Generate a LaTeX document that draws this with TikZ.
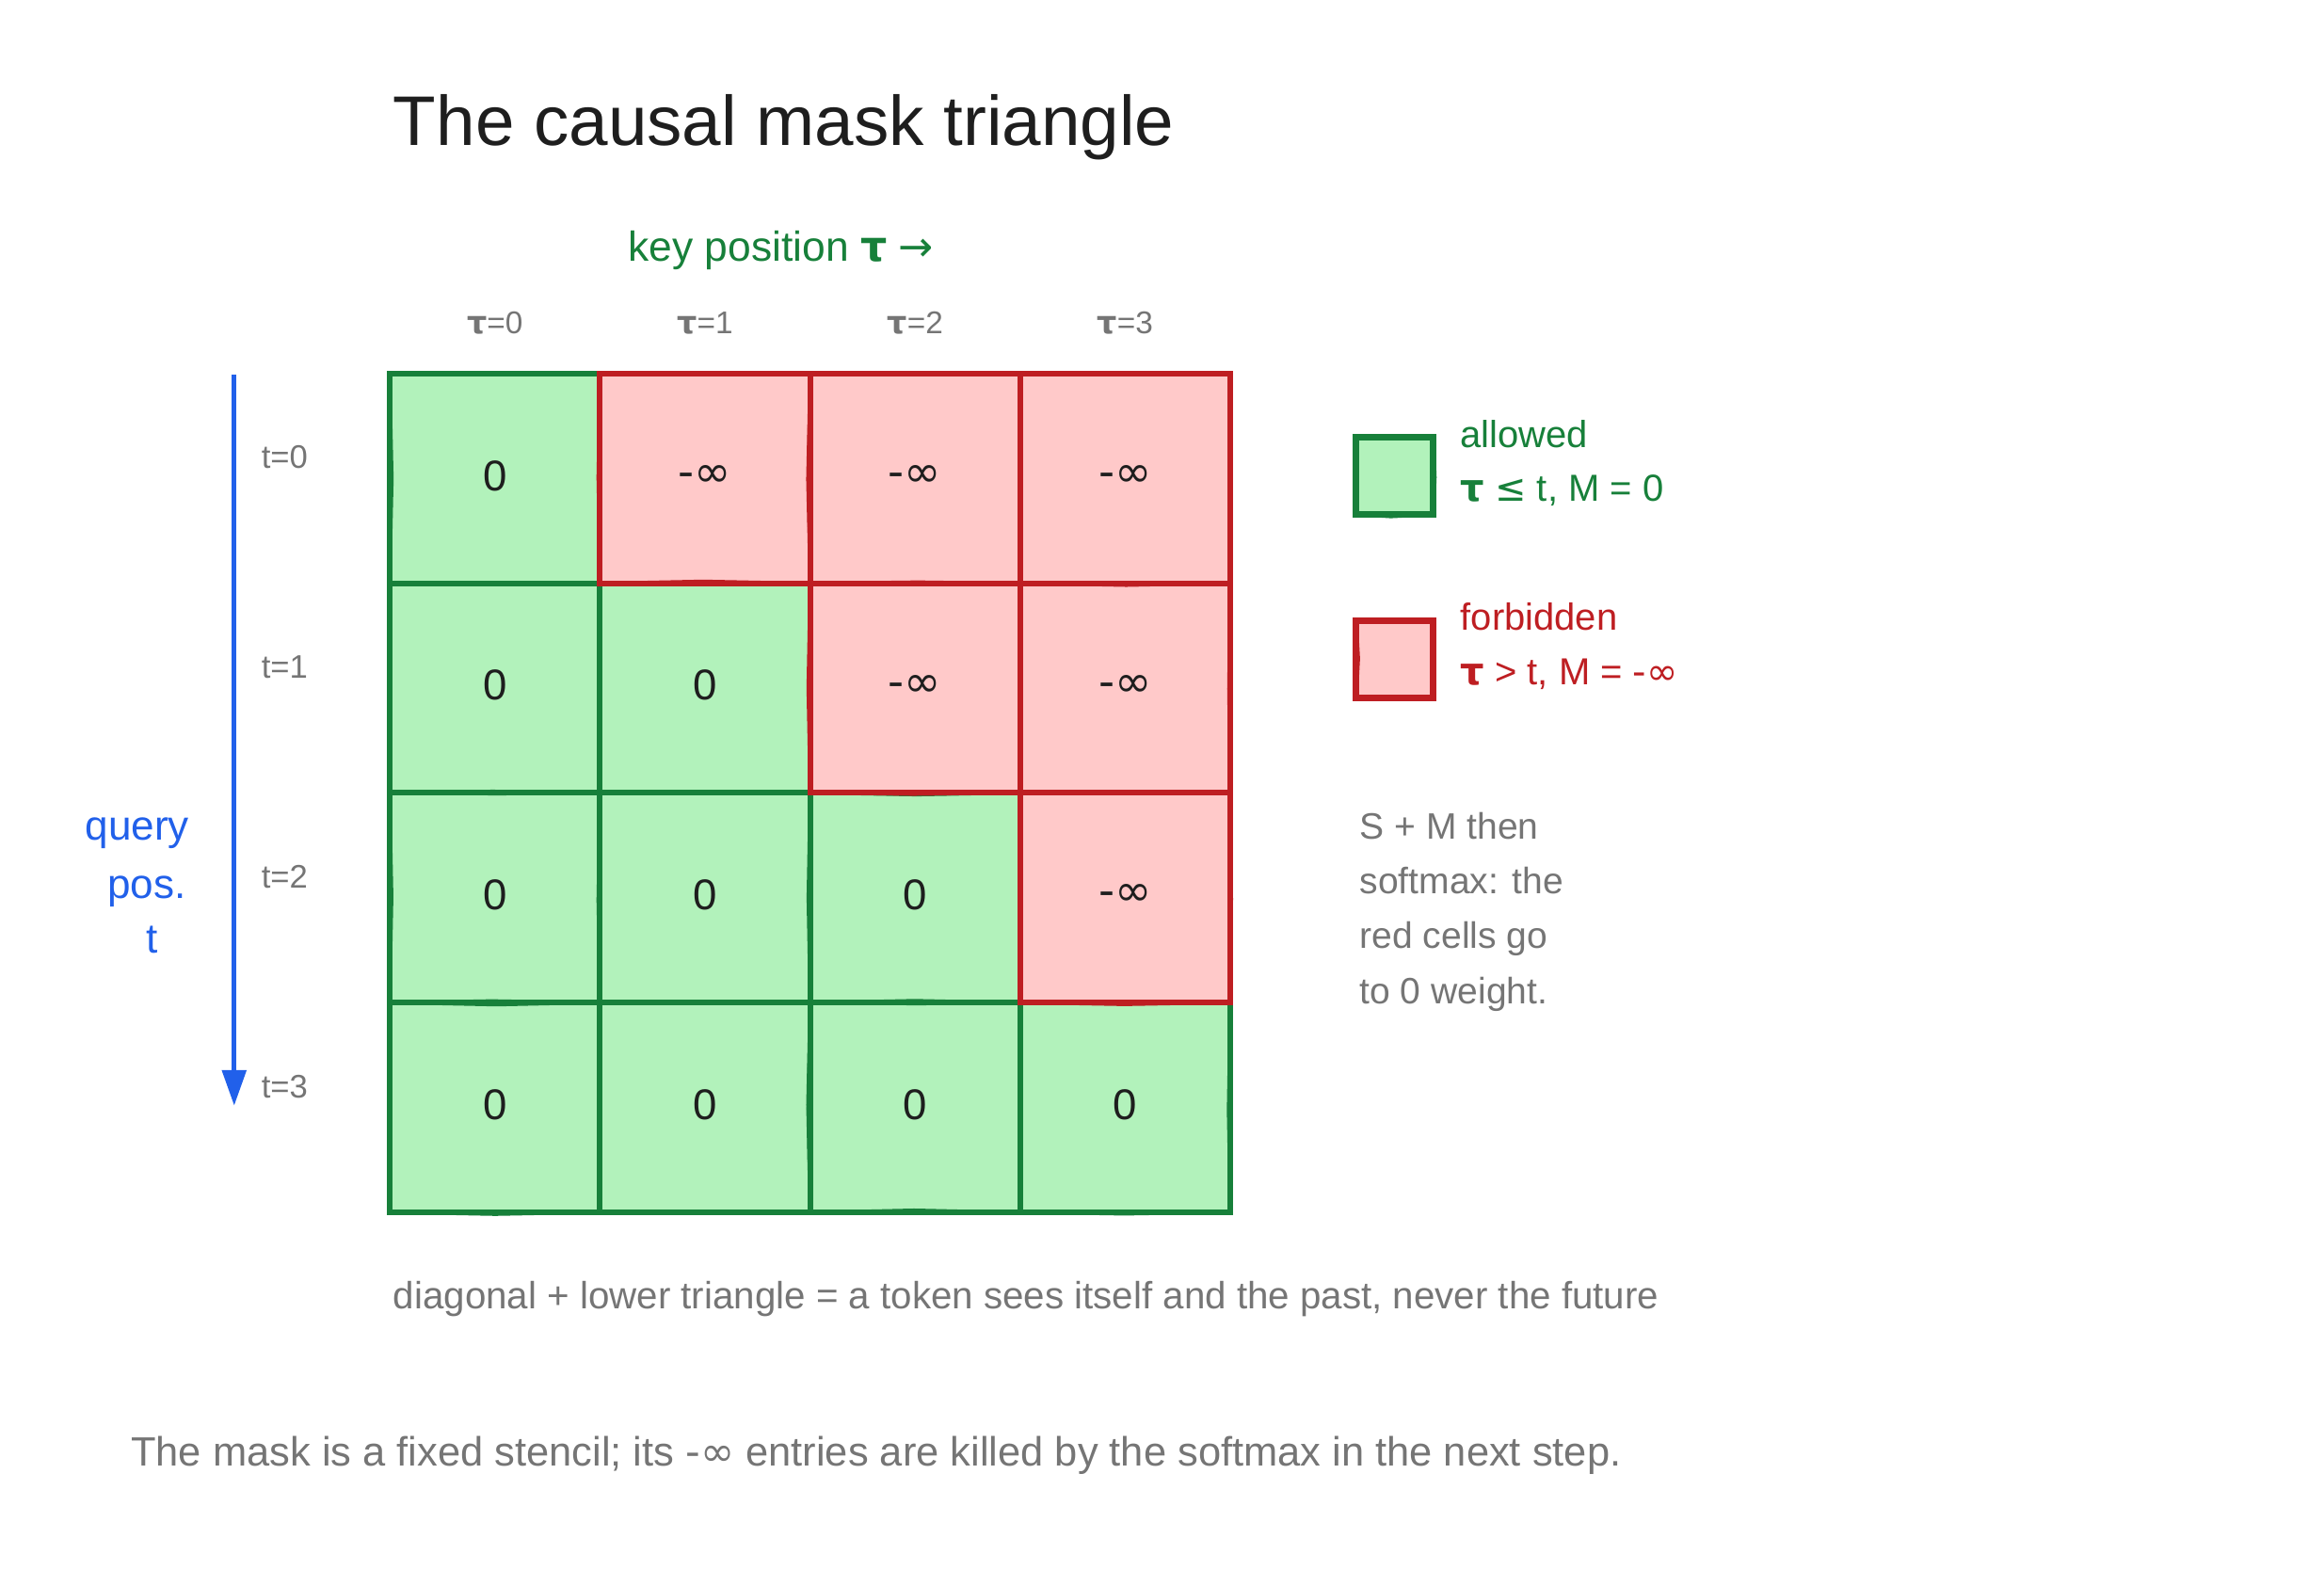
\documentclass[tikz,border=0pt]{standalone}
\usepackage{fontspec}
\setmainfont{Liberation Sans}
\newfontfamily\symf{DejaVu Sans}
\usetikzlibrary{arrows.meta,decorations.pathmorphing}
\definecolor{gfill}{HTML}{B2F2BB}
\definecolor{gline}{HTML}{17803A}
\definecolor{rfill}{HTML}{FFC9C9}
\definecolor{rline}{HTML}{BE1E22}
\definecolor{qblue}{HTML}{2160EA}
\definecolor{gtext}{HTML}{757575}
\definecolor{ink}{HTML}{1E1E1E}
\pgfmathsetseed{7}
\tikzset{
  cellbase/.style={minimum width=70.875pt, minimum height=70.75pt, inner sep=0pt, line width=1.9pt,
    font=\fontsize{14.5}{16}\selectfont, text=ink,
    postaction={draw, line width=1pt, decorate, decoration={random steps, segment length=35pt, amplitude=0.8pt}}},
  okcell/.style={cellbase, draw=gline, fill=gfill},
  badcell/.style={cellbase, draw=rline, fill=rfill},
  colhead/.style={font=\fontsize{10.6}{12}\selectfont, text=gtext, anchor=base},
  rowhead/.style={font=\fontsize{11}{12}\selectfont, text=gtext, anchor=base west},
  legbox/.style={minimum size=26pt, inner sep=0pt, line width=2.2pt,
    postaction={draw, line width=1.2pt, decorate, decoration={random steps, segment length=12pt, amplitude=0.8pt}}},
  legtext/.style={font=\fontsize{12.7}{14}\selectfont, anchor=base west, inner sep=0pt},
  notetext/.style={font=\fontsize{12.4}{14}\selectfont, text=gtext, anchor=base west, inner sep=0pt},
  qtext/.style={font=\fontsize{14}{16}\selectfont, text=qblue, anchor=base east, inner sep=0pt},
}
\begin{document}
\begin{tikzpicture}[x=0.5pt,y=-0.5pt]
\useasboundingbox (0,0) rectangle (1568,1058.7);
% title
\node[font=\fontsize{23.7}{27}\selectfont, text=ink, anchor=base west, inner sep=0pt] (title) at (265,98) {The causal mask triangle};
\node[font=\fontsize{14.1}{16}\selectfont, text=gline, anchor=base, inner sep=0pt] (keylab) at (527,176) {key position {\symf\bfseries τ} {\symf →}};
% column heads
\foreach \c in {0,...,3}{
  \node[colhead] (ch\c) at ({263+141.75*(\c+0.5)},225) {{\symf\bfseries τ}=\c};
}
% row heads
\foreach \r in {0,...,3}{
  \node[rowhead, inner sep=0pt] (rh\r) at (176,{316+141.5*\r}) {t=\r};
}
% green cells
\foreach \r in {0,...,3}{\foreach \c in {0,...,3}{
  \ifnum\c>\r\relax\else
  \node[okcell] (c\r\c) at ({263+141.75*(\c+0.5)},{252+141.5*(\r+0.5)}) {\raisebox{2pt}{0}};
  \fi
}}
% red cells
\foreach \r in {0,...,3}{\foreach \c in {0,...,3}{
  \ifnum\c>\r\relax
  \node[badcell] (c\r\c) at ({263+141.75*(\c+0.5)},{252+141.5*(\r+0.5)}) {\raisebox{1.5pt}{\symf\fontsize{15}{16}\selectfont -∞}};
  \fi
}}
% query arrow
\coordinate (qtop) at (158,253);
\coordinate (qbot) at (158,746);
\draw[qblue, line width=1.6pt, -{Triangle[length=12pt,width=8pt]}] (qtop) -- (qbot);
\node[qtext] (q1) at (128,567) {query};
\node[qtext] (q2) at (126,606) {pos.};
\node[qtext] (q3) at (107,643) {t};
% legend
\node[legbox, draw=gline, fill=gfill] (legok) at (941,321) {};
\node[legtext, text=gline] (legok1) at (985,302) {allowed};
\node[legtext, text=gline] (legok2) at (985,338) {{\symf\bfseries τ} {\symf ≤} t,\ M = 0};
\node[legbox, draw=rline, fill=rfill] (legbad) at (941,445) {};
\node[legtext, text=rline] (legbad1) at (985,425) {forbidden};
\node[legtext, text=rline] (legbad2) at (985,462) {{\symf\bfseries τ} >\ t,\ M =\ {\symf -∞}};
% note
\node[notetext] (n1) at (917,566) {S + M then};
\node[notetext] (n2) at (917,603) {softmax: the};
\node[notetext] (n3) at (917,640) {red cells go};
\node[notetext] (n4) at (917,677) {to 0 weight.};
% captions
\node[font=\fontsize{12.8}{14}\selectfont, text=gtext, anchor=base west, inner sep=0pt] (diag) at (265,883) {diagonal + lower triangle = a token sees itself and the past, never the future};
\node[font=\fontsize{13.8}{15}\selectfont, text=gtext, anchor=base west, inner sep=0pt] (foot) at (88,989) {The mask is a fixed stencil; its {\symf -∞} entries are killed by the softmax in the next step.};
\end{tikzpicture}
\end{document}
